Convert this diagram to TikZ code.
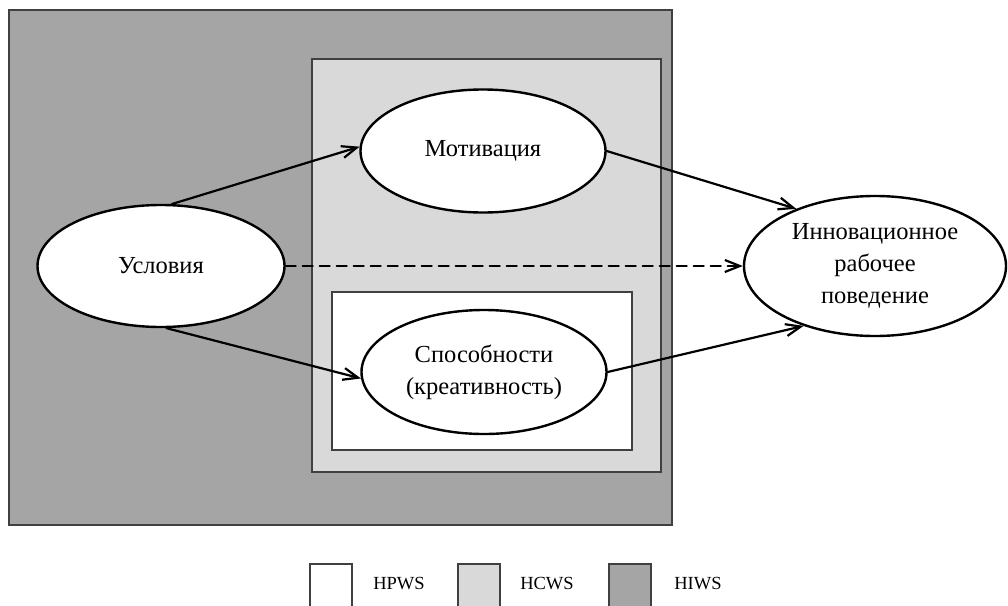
\documentclass[tikz,border=0pt]{standalone}
\usepackage{fontspec}
\setmainfont{Liberation Serif}
\usetikzlibrary{arrows.meta}
\usetikzlibrary{shapes.geometric}
\definecolor{hiwsgray}{HTML}{A5A5A5}
\definecolor{hcwsgray}{HTML}{D9D9D9}

\begin{document}
\begin{tikzpicture}[x=1pt, y=-1pt, line cap=round,
    oval/.style={ellipse, draw, line width=2.4pt, fill=white, inner sep=0pt,
        align=center, font=\fontsize{24.5}{32}\selectfont},
    zone/.style={draw=black!75, line width=1.3pt},
    link/.style={line width=2.2pt, -{Straight Barb[length=15pt, width=12pt]}},
    legtext/.style={font=\fontsize{18.5}{20}\selectfont}]
    % уровни систем
    \useasboundingbox (0,0) rectangle (1008,605);
    \draw[zone, fill=hiwsgray] (9,10) rectangle (672,525);
    \draw[zone, fill=hcwsgray] (312,59) rectangle (661,472);
    \draw[zone, fill=white] (332,292) rectangle (632,450);

    \node[oval, minimum width=247pt, minimum height=122pt] (usl) at (161,266) {Условия};
    \node[oval, minimum width=245pt, minimum height=123pt] (mot) at (483,151) {Мотивация};
    \node[oval, minimum width=245pt, minimum height=124pt] (spo) at (484,372) {Способности\\(креативность)};
    \node[oval, minimum width=262pt, minimum height=140pt] (inn) at (875,266) {Инновационное\\рабочее\\поведение};

    \draw[link] (usl.80) -- (mot.178);
    \draw[link] (usl.-85) -- (spo.183);
    \draw[link] (mot.east) -- (inn.144);
    \draw[link] (spo.east) -- (inn.220);
    \draw[link, dash pattern=on 10pt off 7pt] (usl.east) -- (inn.west);

    % легенда
    \foreach \x/\c/\t in {310/white/HPWS, 458/hcwsgray/HCWS, 609/hiwsgray/HIWS}{
        \draw[zone, fill=\c] (\x,612) -- (\x,564) -- (\x+42,564) -- (\x+42,612);
        \node[legtext] (leg-\t) at (\x+89,584) {\t};
    }
\end{tikzpicture}
\end{document}
